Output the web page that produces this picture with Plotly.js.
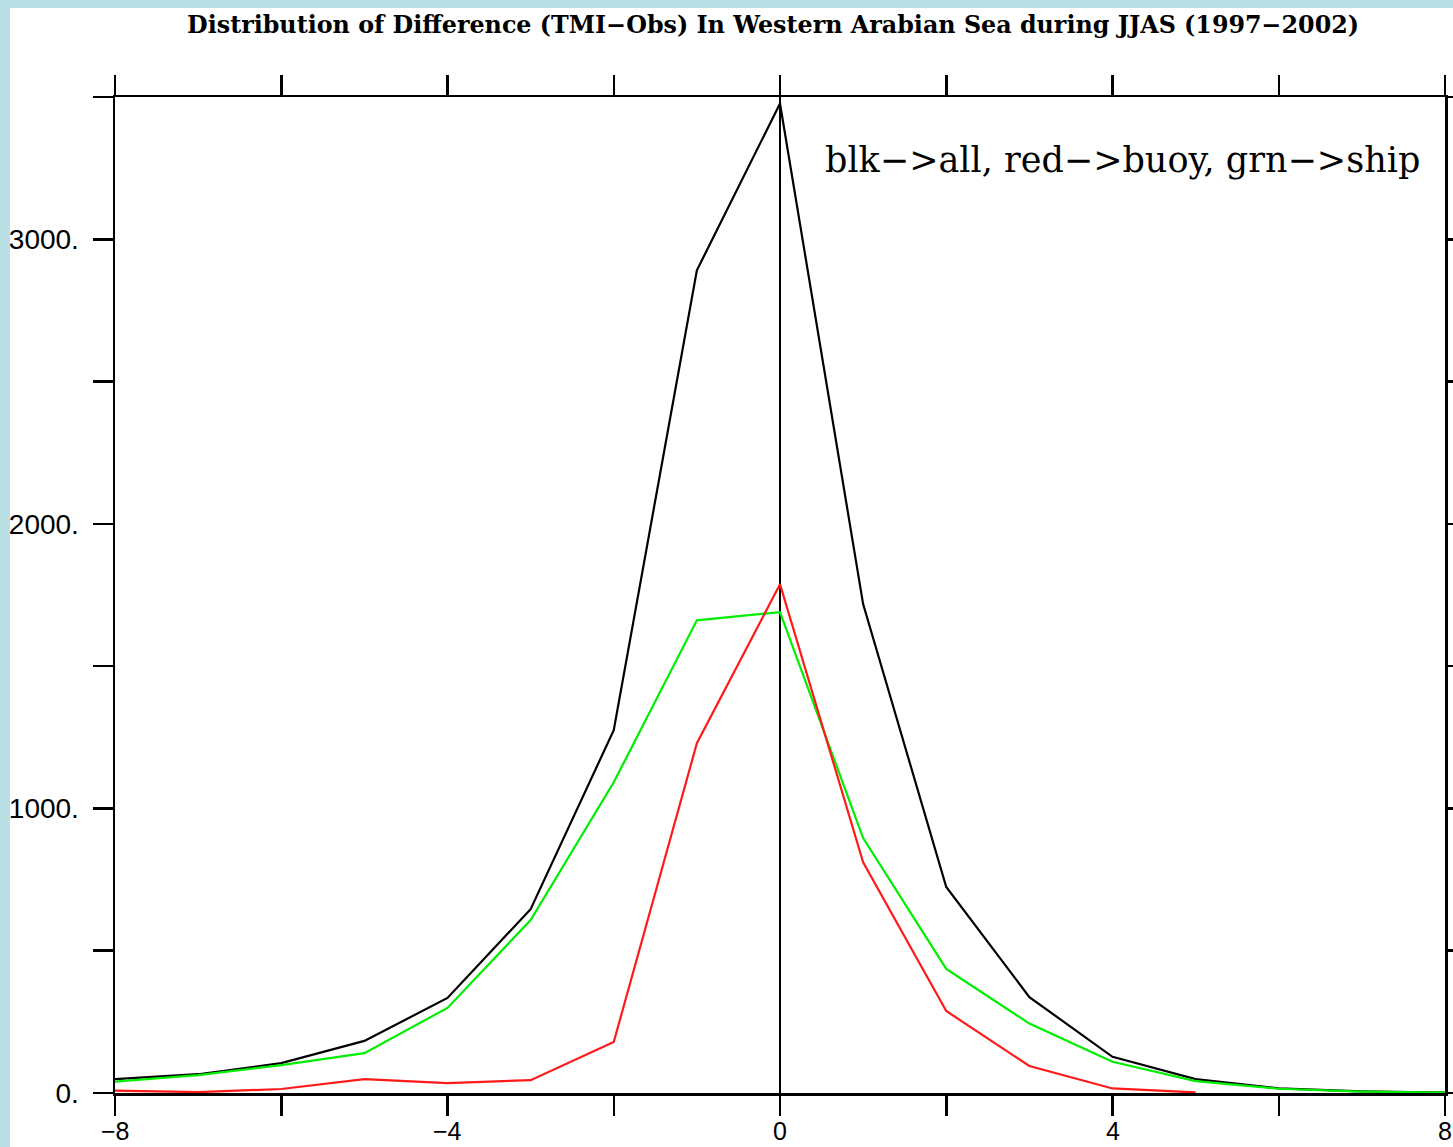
<!DOCTYPE html>
<html>
<head>
<meta charset="utf-8">
<script src="https://cdn.plot.ly/plotly-3.0.1.min.js"></script>
<style>
html,body{margin:0;padding:0;background:#b9e0e4;width:1453px;height:1147px;overflow:hidden;}
#chart{position:absolute;left:10px;top:8px;width:1443px;height:1139px;background:#fff;}
</style>
</head>
<body>
<div id="chart"></div>
<script>
// Difference bins (TMI - Obs)
const diffBins = [-8,-7,-6,-5,-4,-3,-2,-1,0,1,2,3,4,5,6,7,8];
const buoyBins = [-8,-7,-6,-5,-4,-3,-2,-1,0,1,2,3,4,5];
// counts
const allCounts  = [49,66,105,183,334,646,1275,2891,3477,1718,724,337,127,49,16,6,1];
const buoyCounts = [8,3,14,49,35,45,179,1229,1788,811,288,95,16,2];
const shipCounts = [40,63,98,140,299,608,1092,1661,1690,896,436,244,110,42,15,5,1];

const xTickVals = [-8,-6,-4,-2,0,2,4,6,8];
const xTickText = ['\u22128','','\u22124','','0','','4','','8'];
const yTickVals = [0,500,1000,1500,2000,2500,3000,3500];
const yTickText = ['0.','','1000.','','2000.','','3000.',''];

const titleText = 'Distribution of Difference (TMI\u2212Obs) In Western Arabian Sea during JJAS (1997\u22122002)';
const noteText = 'blk\u2212>all, red\u2212>buoy, grn\u2212>ship';

const traces = [
  {x: diffBins, y: allCounts, mode: 'lines', name: 'all', line: {color: '#000000', width: 2.2}},
  {x: diffBins, y: shipCounts, mode: 'lines', name: 'ship', line: {color: '#00ee00', width: 2.2}},
  {x: buoyBins, y: buoyCounts, mode: 'lines', name: 'buoy', line: {color: '#ff1a1a', width: 2.2}}
];

const axisCommon = {
  showline: true, linecolor: '#000', linewidth: 2.5, mirror: 'allticks',
  ticks: 'outside', ticklen: 20, tickwidth: 2.5, tickcolor: '#000',
  showgrid: false, tickmode: 'array'
};

// x tick labels drawn as annotations so they sit just inside the bottom edge
const xLabelAnnotations = xTickVals
  .map((v, i) => ({v: v, t: xTickText[i]}))
  .filter(o => o.t !== '')
  .map(o => ({
    text: o.t, xref: 'x', yref: 'paper', x: o.v, y: 0,
    xanchor: 'center', yanchor: 'bottom', yshift: -54, showarrow: false,
    font: {family: 'Liberation Sans, Arial, sans-serif', size: 25, color: '#000'}
  }));

const layout = {
  width: 1443, height: 1139,
  margin: {l: 105, r: 8, t: 89, b: 54},
  paper_bgcolor: '#ffffff', plot_bgcolor: '#ffffff',
  showlegend: false,
  title: {
    text: titleText, xref: 'container', yref: 'container',
    x: 0.5288, xanchor: 'center', y: 0.985, yanchor: 'middle',
    font: {family: 'DejaVu Serif, serif', size: 23.8, color: '#000', weight: 'bold'}
  },
  xaxis: Object.assign({}, axisCommon, {
    range: [-8, 8], tickvals: xTickVals, ticktext: xTickText, showticklabels: false,
    zeroline: true, zerolinecolor: '#000', zerolinewidth: 2.2
  }),
  yaxis: Object.assign({}, axisCommon, {
    range: [0, 3500], tickvals: yTickVals, ticktext: yTickText,
    tickfont: {family: 'Liberation Sans, Arial, sans-serif', size: 28, color: '#000'},
    zeroline: false, ticklabelstandoff: 8
  }),
  annotations: [{
    text: noteText, xref: 'x', yref: 'y', x: 7.72, y: 3278,
    xanchor: 'right', yanchor: 'middle', showarrow: false,
    font: {family: 'DejaVu Serif, serif', size: 35, color: '#000'}
  }].concat(xLabelAnnotations)
};

Plotly.newPlot('chart', traces, layout, {displayModeBar: false, staticPlot: true});
</script>
</body>
</html>
